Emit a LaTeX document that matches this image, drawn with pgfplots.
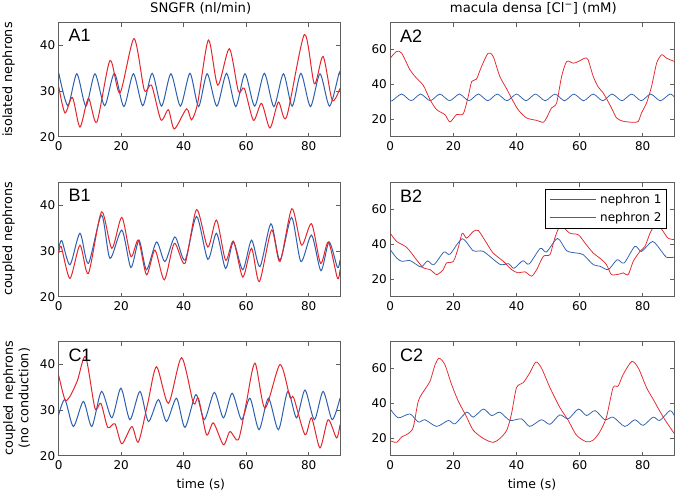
\documentclass[border=0pt]{standalone}
\usepackage{fontspec}
\setmainfont{DejaVu Sans}
\newfontfamily\panelfont{Liberation Sans}
\usepackage{pgfplots}
\pgfplotsset{compat=1.18}
\definecolor{nblue}{RGB}{45,95,175}
\definecolor{nred}{RGB}{228,38,44}
\definecolor{axgray}{RGB}{95,95,95}
\newcommand{\tf}{\fontsize{12}{14}\selectfont}
\pgfplotsset{
  panel/.style={scale only axis, height=114pt, xmin=0, xmax=90,
    xtick={0,20,40,60,80}, tick align=inside, major tick length=4pt,
    axis line style={axgray, line width=0.6pt}, every tick/.style={axgray, line width=0.6pt},
    tick label style={font=\tf}, /pgf/number format/assume math mode=true,
    xticklabel shift=1pt, yticklabel shift=0pt},
  left/.style={panel, width=281.3pt, ymin=20, ymax=45, ytick={20,30,40}},
  right/.style={panel, width=284pt, ymin=10, ymax=75, ytick={20,40,60}},
}
\newcommand{\plabel}[1]{\node[anchor=north west, inner sep=0pt, xshift=9.6pt, yshift=-6.6pt, font=\panelfont\fontsize{18}{20}\selectfont] at (rel axis cs:0,1) {#1};}
\newcommand{\lgline}[1]{\textcolor{#1}{\rule[0.32em]{46pt}{0.75pt}}\hspace{4.5pt}}
\begin{document}
\begin{tikzpicture}
\useasboundingbox (0,0) rectangle (675pt,493pt);
% ---------- A1
\begin{axis}[left, at={(58.7pt,470.3pt)}, anchor=north west]
\addplot[draw=nblue, line width=1.0pt, smooth, tension=0.45] coordinates {(0,34.0) (2.9,26.8) (5.8,33.8) (8.7,26.7) (11.6,33.8) (14.7,26.8) (17.8,33.9) (20.85,26.6) (23.9,33.8) (26.9,26.8) (29.9,33.9) (32.9,26.7) (35.9,33.8) (38.95,26.7) (42.0,33.9) (44.75,26.6) (47.5,33.8) (50.6,26.7) (53.7,33.9) (56.65,26.6) (59.6,33.8) (62.7,26.7) (65.8,33.9) (68.85,26.6) (71.9,33.8) (74.7,26.7) (77.5,33.9) (80.55,26.6) (83.6,33.8) (86.65,26.7) (89.7,33.9) (90,33.6)};
\addplot[draw=nred, line width=1.0pt, smooth, tension=0.45] coordinates {(0,31.0) (2.0,25.2) (4.4,28.6) (6.8,22.1) (9.5,28.4) (12.2,23.2) (16.4,36.7) (19.6,29.6) (24.1,41.5) (27.4,30.2) (29.7,31.3) (32.7,23.7) (35.1,25.9) (37.0,21.7) (40.9,26.1) (42.5,23.7) (44.5,27.5) (47.9,41.2) (50.9,31.3) (54.6,39.3) (57.5,29.9) (59.4,30.6) (62.3,23.6) (64.9,27.3) (67.6,21.9) (70.3,27.6) (72.9,24.3) (78.6,42.4) (81.8,31.6) (84.6,37.6) (87.5,28.0) (90,30.6)};
\plabel{A1}
\end{axis}
% ---------- A2
\begin{axis}[right, at={(390.3pt,470.3pt)}, anchor=north west]
\addplot[draw=nblue, line width=0.75pt, smooth, tension=0.45] coordinates {(0,30.6) (0.6,30.5) (3.6,34.3) (6.6,30.5) (9.6,34.3) (12.65,30.5) (15.7,34.3) (18.8,30.5) (21.9,34.3) (24.9,30.5) (27.9,34.3) (30.9,30.5) (33.9,34.3) (36.95,30.5) (40.0,34.3) (43.0,30.5) (46.0,34.3) (49.1,30.5) (52.2,34.3) (55.2,30.5) (58.2,34.3) (61.25,30.5) (64.3,34.3) (67.3,30.5) (70.3,34.3) (73.4,30.5) (76.5,34.3) (79.5,30.5) (82.5,34.3) (85.55,30.5) (88.6,34.3) (90,32.6)};
\addplot[draw=nred, line width=0.75pt, smooth, tension=0.45] coordinates {(0,54.8) (2.0,58.6) (3.6,57.6) (6.2,48.2) (8,44) (10.5,39.1) (12.6,31.1) (14.7,25.4) (17.3,22.6) (18.9,18.4) (21,22.6) (23.1,23) (24.7,33) (25.8,41.5) (27.3,42.8) (28.9,50) (31.0,57.6) (32.6,55.7) (34.7,44.4) (36.9,37.2) (38.4,32) (40.5,25.4) (43.2,20.7) (46.4,19.3) (48.5,18.2) (49.5,20.7) (51.1,26.4) (52.7,29.2) (54.3,44.4) (55.9,52.9) (58.0,51.9) (59.6,52.9) (61.7,54.8) (62.7,53.8) (64.3,44.4) (65.9,38.3) (67.5,34.9) (70.1,26.4) (71.7,20.7) (73.8,18.8) (77.0,18.2) (78.6,18.8) (79.6,23.5) (81.2,29.2) (82.8,38.7) (84.4,51.9) (86.0,56.7) (87.5,54.8) (90,52.9)};
\plabel{A2}
\end{axis}
% ---------- B1
\begin{axis}[left, at={(58.7pt,310.3pt)}, anchor=north west]
\addplot[draw=nblue, line width=1.0pt, smooth, tension=0.45] coordinates {(0,30.5) (1,32.3) (3.6,27.0) (6.8,33.9) (9.5,27.3) (13.7,37.9) (16.4,28.4) (20.2,34.6) (23.1,26.4) (25.7,32.4) (28.1,25.9) (31.3,32.0) (34.0,27.7) (37.2,33.1) (40.4,28.0) (44.1,37.6) (47.7,28.2) (50.5,33.9) (53.4,26.2) (55.9,32.0) (58.9,25.9) (61.7,32.4) (64.4,26.6) (67.9,36.0) (70.8,28.0) (74.5,37.4) (77.5,27.7) (80.9,33.5) (83.9,25.7) (86.5,32.0) (89.2,26.4) (90,28.0)};
\addplot[draw=nred, line width=1.0pt, smooth, tension=0.45] coordinates {(0,29.5) (0.8,31) (3.6,24.0) (6.8,31.3) (9.5,25.1) (13.7,38.6) (17.0,30.6) (20.2,37.4) (23.1,28.8) (25.5,32.4) (28.1,24.8) (30.8,30.2) (33.8,23.7) (37.0,31.7) (40.4,27.3) (44.1,39.1) (47.7,30.9) (50.5,36.8) (53.4,28.0) (55.9,32.2) (58.9,24.3) (61.7,30.6) (64.2,23.3) (68.1,34.6) (70.8,27.7) (74.6,39.3) (77.7,31.3) (80.9,36.0) (83.8,27.3) (86.3,32.0) (89.2,24.0) (90,25.9)};
\plabel{B1}
\end{axis}
% ---------- B2
\begin{axis}[right, at={(390.3pt,310.3pt)}, anchor=north west,
  legend style={at={(rel axis cs:1,1)}, anchor=north east, xshift=-7.6pt, yshift=-6.6pt,
    fill=white, draw=black, font=\tf, inner xsep=3pt, inner ysep=3pt, row sep=3pt,
    nodes={inner sep=2pt}},
  legend cell align=left]
\addplot[draw=nblue, line width=0.75pt, smooth, tension=0.45, forget plot] coordinates {(0,36.8) (2,32.1) (3.6,30.2) (6.2,30.6) (8.3,28.3) (9.9,26.9) (11.8,30.4) (13.8,28.2) (17.0,35.5) (18.9,34.2) (22.8,43.0) (26.3,36.2) (29.5,35.8) (34.7,28.5) (37.5,28.8) (39.2,26.2) (42.0,30.5) (44.0,28.6) (47.5,37.5) (49.5,35.5) (53.0,43.2) (55.9,36.2) (59.0,34.9) (61.1,34.0) (64.3,28.3) (66.4,27.4) (69.1,25.5) (71.9,31.1) (74.1,29.2) (77.5,38.7) (79.6,35.8) (83.1,41.5) (86.0,35.8) (87.5,32.5) (90,32.5)};
\addplot[draw=nred, line width=0.75pt, smooth, tension=0.45, forget plot] coordinates {(0,46.2) (2,41.5) (5.2,38.1) (8.3,31.1) (10.5,26.4) (12.6,25.5) (14.7,22.6) (16.8,25.5) (17.8,29.2) (20,30.2) (21.5,37.7) (22.8,46.2) (24.2,43.4) (26.3,47.2) (27.9,47.7) (30.5,40.6) (32.6,34.9) (35.8,30.2) (38.4,25.5) (40.5,23.6) (42.7,24.2) (44.8,21.7) (46.4,25.5) (48.5,33) (50.6,34) (51.8,41.5) (53.2,48.5) (54.5,50) (56.9,46.2) (59.6,45.3) (61.7,40.6) (64.3,34.9) (66.4,32) (68.5,28.3) (70.1,22.6) (72.8,23) (73.8,23.6) (75.4,22.6) (77,30.2) (79.1,35.8) (80.7,38.7) (82.3,46.2) (83.8,51) (84.8,51.5) (86.5,47.2) (88,43.4) (90,42.5)};
\addlegendimage{empty legend}
\addlegendentry{\lgline{nblue}nephron 1}
\addlegendimage{empty legend}
\addlegendentry{\lgline{nred}nephron 2}
\plabel{B2}
\end{axis}
% ---------- C1
\begin{axis}[left, at={(58.7pt,151.3pt)}, anchor=north west]
\addplot[draw=nblue, line width=1.0pt, smooth, tension=0.45] coordinates {(0,29.0) (2.0,32.3) (4.7,26.4) (7.9,31.9) (10.6,26.4) (13.7,34.1) (17.0,28.3) (19.9,34.8) (22.8,27.9) (26.0,34.1) (28.7,27.5) (31.9,32.3) (34.5,27.5) (37.7,32.6) (40.4,26.2) (43.9,33.4) (46.6,27.9) (49.8,33.9) (52.7,28.3) (55.5,33.7) (58.5,27.9) (61.2,32.6) (64.1,25.7) (67.1,32.6) (70.3,25.7) (73.3,34.1) (76.1,28.3) (78.8,34.4) (81.8,27.9) (84.6,34.1) (87.5,27.9) (90,32.6)};
\addplot[draw=nred, line width=1.0pt, smooth, tension=0.45] coordinates {(0,37.6) (2.0,32.3) (3.6,33.0) (6,36.5) (8.6,41.7) (11.6,30.4) (13.5,31.5) (15.7,26.2) (18.0,27.0) (20.2,22.6) (23.4,26.4) (25.5,23.0) (28.5,31.5) (31.3,39.5) (35.1,31.5) (39.3,41.5) (43.1,31.5) (44.7,32.6) (47.3,24.6) (49.5,27.2) (52.7,22.4) (54.8,25.3) (57.5,23.5) (60,31.5) (62.8,40.3) (66.0,30.4) (70.8,40.0) (74.0,32.8) (75.2,32.7) (78.8,24.6) (80.9,28.3) (83.6,21.7) (86.2,27.9) (88.9,23.9) (90,26.8)};
\plabel{C1}
\end{axis}
% ---------- C2
\begin{axis}[right, at={(390.3pt,151.3pt)}, anchor=north west]
\addplot[draw=nblue, line width=0.75pt, smooth, tension=0.45] coordinates {(0,36.6) (2.5,31.6) (6.2,33.8) (8.9,29.2) (11,30.5) (14.7,26.7) (18.4,30.1) (20.5,28.2) (24.2,34.8) (26.3,32) (29.5,36.6) (32.1,32.9) (34.7,34.8) (37.9,30.1) (41.6,31) (44.2,26.7) (47.9,30.5) (50.6,27.9) (53.7,33.3) (56.4,31) (59.6,36.6) (62.2,32.9) (64.9,35.7) (68,30.5) (70.6,32) (74.3,26.7) (77.5,30.5) (80.1,27.3) (83.3,32) (85.4,30.1) (88.6,35.7) (90,32.9)};
\addplot[draw=nred, line width=0.75pt, smooth, tension=0.45] coordinates {(0,18.5) (2,17.6) (3.6,20.7) (5.7,22.6) (7.3,26.4) (8.9,41.3) (11.0,47.9) (12.6,52.5) (14.2,61.9) (15.5,65.6) (17.3,61.9) (19.4,50.7) (21.5,41.3) (24.2,32) (26.3,24.5) (29.5,19.8) (32.6,17.6) (34.7,19.8) (36.9,24.5) (38.4,33.8) (40.0,48.8) (42.1,51.6) (44.2,57.2) (46.1,63.4) (47.9,60) (50.6,48.8) (53.7,37.6) (56.4,30.1) (59.0,21.7) (62.2,17.9) (64.3,18.9) (66.4,23.6) (68.5,32) (70.6,48.8) (72.2,49.7) (73.8,56.3) (76.5,63.7) (78.6,60) (81.2,48.8) (83.3,42.2) (86.5,32) (90,22.6)};
\plabel{C2}
\end{axis}
% ---------- labels
\node[font=\fontsize{13.2}{15}\selectfont] at (200.7pt,485pt) {SNGFR (nl/min)};
\node[font=\fontsize{13.2}{15}\selectfont] at (533.3pt,485pt) {macula densa [Cl\textsuperscript{−}] (mM)};
\node[font=\fontsize{12.5}{15}\selectfont] at (200.8pt,8.5pt) {time (s)};
\node[font=\fontsize{12.5}{15}\selectfont] at (532pt,8.5pt) {time (s)};
\node[font=\fontsize{12.8}{15}\selectfont, rotate=90] at (8.5pt,413.5pt) {isolated nephrons};
\node[font=\fontsize{12.8}{15}\selectfont, rotate=90] at (8.5pt,254.3pt) {coupled nephrons};
\node[font=\fontsize{12.8}{15.5}\selectfont, rotate=90, align=center] at (16.5pt,94.7pt) {coupled nephrons\\(no conduction)};
\end{tikzpicture}
\end{document}
